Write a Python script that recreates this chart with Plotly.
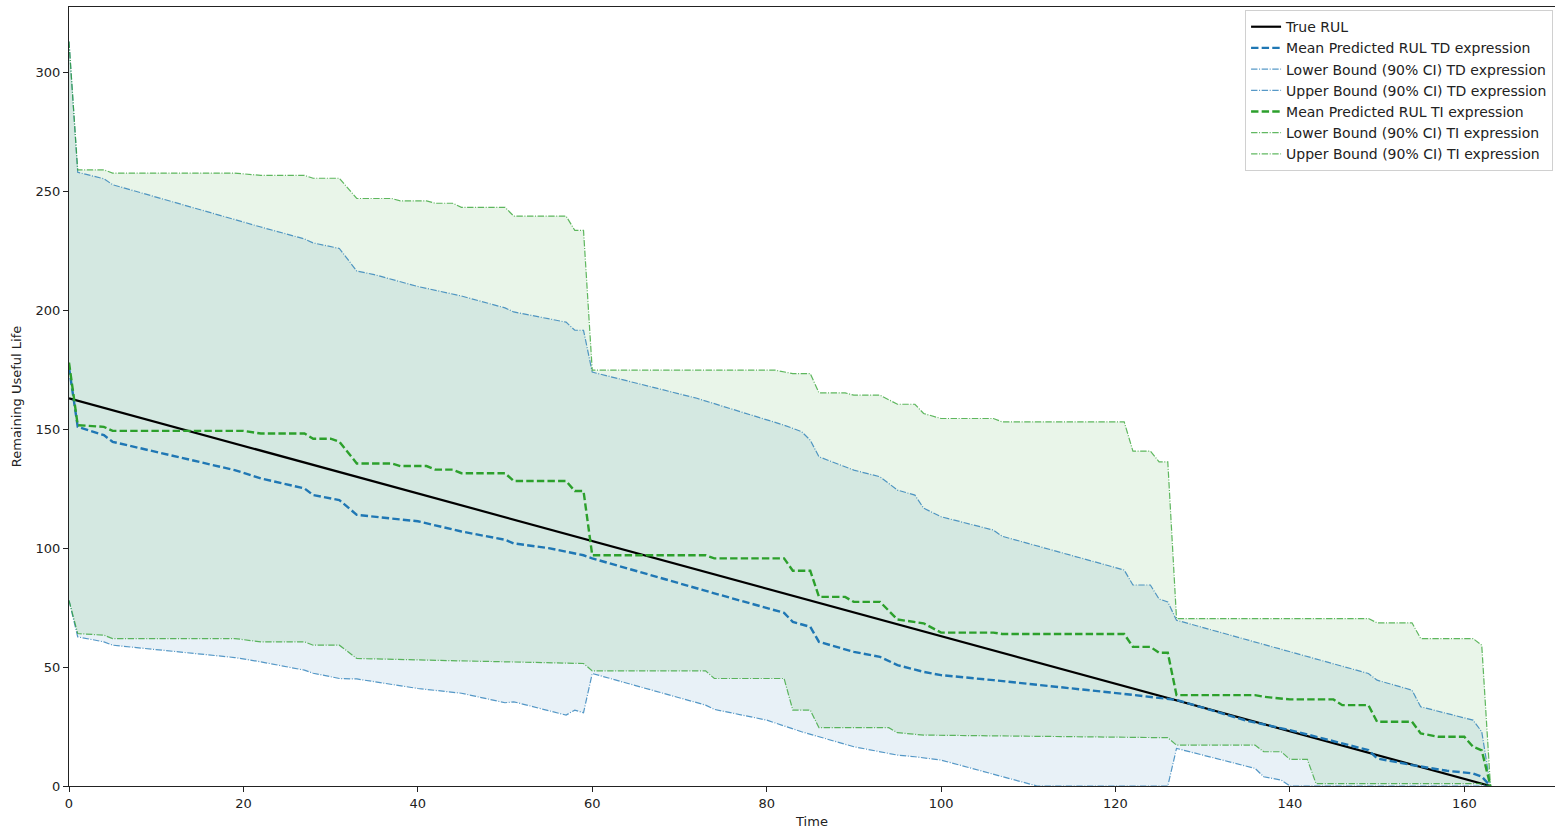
import plotly.graph_objects as go

# Time axis of the run (cycles) and the ground-truth remaining useful life
true_t = [0, 163]
true_rul = [163, 0]

# Time-dependent (TD) expression: mean prediction and 90% CI bounds
td_mean_t = [0, 1, 4, 5, 19, 22, 27, 28, 31, 33, 40, 45, 50, 51, 55, 59, 60, 72, 74, 82, 83, 85, 86,
             90, 93, 95, 98, 100, 106, 121, 126, 127, 135, 140, 149, 150, 154, 158, 161, 162, 163]
td_mean = [176, 151, 147.5, 144.7, 132.8, 129.3, 125.1, 122.3, 120.2, 114, 111.3, 107, 103.5, 102, 100,
           97, 95.7, 83, 81, 72.8, 69, 66.9, 60.6, 56.4, 54.3, 50.8, 48, 46.6, 44.5, 38.7, 36.8, 36.2,
           27.5, 23.5, 15.1, 11.6, 8.8, 6.4, 5.3, 3.9, 0]

td_upper_t = [0, 1, 4, 5, 22, 27, 28, 31, 33, 35, 40, 45, 50, 51, 57, 58, 59, 60, 72, 80, 82, 84, 85, 86,
              90, 93, 95, 97, 98, 100, 106, 107, 121, 122, 124, 125, 126, 127, 149, 150, 154, 155, 161,
              162, 163]
td_upper = [313, 258, 255.3, 252.8, 235, 230, 228.3, 226, 216.5, 215, 210, 206, 201, 199.3, 195, 191.6,
            191.6, 174, 163, 154, 151.7, 149, 145.4, 138.4, 132.8, 130, 124.4, 122.3, 116.8, 113.2, 107.6,
            105, 90.8, 84.5, 84.5, 78.6, 77.4, 69.7, 47.3, 44.5, 40.3, 33.3, 27.7, 22.8, 0]

td_lower_t = [0, 1, 4, 5, 19, 22, 27, 28, 31, 33, 40, 45, 50, 51, 57, 58, 59, 60, 73, 74, 80, 84, 90, 95,
              97, 100, 111, 126, 127, 136, 137, 139, 140, 163]
td_lower = [78, 62.7, 60.6, 59.2, 54, 52.2, 48.7, 47.4, 45.2, 45, 41, 39, 35, 35.4, 29.8, 31.9, 30.8,
            47.3, 34, 32.2, 27.7, 22.8, 16.5, 13, 12.3, 10.9, 0, 0, 15.8, 7.4, 3.9, 2.5, 0, 0]

# Time-independent (TI) expression: mean prediction and 90% CI bounds
ti_mean_t = [0, 1, 4, 5, 20, 22, 27, 28, 30, 31, 33, 37, 38, 41, 42, 44, 45, 50, 51, 57, 58, 59, 60, 73,
             74, 82, 83, 85, 86, 89, 90, 93, 95, 98, 100, 106, 107, 121, 122, 124, 125, 126, 127, 136,
             137, 140, 145, 146, 149, 150, 154, 155, 157, 160, 161, 162, 163]
ti_mean = [178, 151.7, 151, 149.3, 149.3, 148.2, 148.2, 146, 146, 144.7, 135.6, 135.6, 134.5, 134.5, 133,
           133, 131.5, 131.5, 128.2, 128.2, 124, 124, 97, 97, 95.7, 95.7, 90.5, 90.5, 79.5, 79.5, 77.4,
           77.4, 70, 68.4, 64.5, 64.5, 63.9, 63.9, 58.5, 58.5, 56, 56, 38.2, 38.2, 37.5, 36.4, 36.4, 34,
           34, 27, 27, 22.1, 20.7, 20.7, 16.5, 15, 0]

ti_upper_t = [0, 1, 4, 5, 19, 22, 27, 28, 31, 33, 37, 38, 41, 42, 44, 45, 50, 51, 57, 58, 59, 60, 81, 83,
              85, 86, 89, 90, 93, 95, 97, 98, 100, 106, 107, 121, 122, 124, 125, 126, 127, 149, 150, 154,
              155, 161, 162, 163]
ti_upper = [313, 259, 259, 257.7, 257.7, 256.7, 256.7, 255.5, 255.5, 247, 247, 246, 246, 245, 245, 243.3,
            243.3, 239.6, 239.6, 233.6, 233.6, 174.8, 174.8, 173.4, 173.4, 165.3, 165.3, 164.3, 164.3,
            160.5, 160.5, 156.6, 154.5, 154.5, 153.1, 153.1, 140.8, 140.8, 136.3, 136.3, 70.4, 70.4, 68.6,
            68.6, 62, 62, 59.2, 0]

ti_lower_t = [0, 1, 4, 5, 19, 22, 27, 28, 31, 33, 40, 50, 59, 60, 73, 74, 82, 83, 85, 86, 94, 95, 98, 126,
              127, 136, 137, 139, 140, 142, 143, 162, 163]
ti_lower = [78, 64.1, 63.4, 62, 62, 60.6, 60.6, 59.2, 59.2, 53.6, 53, 52.2, 51.5, 48.4, 48.4, 45.2, 45.2,
            31.9, 31.9, 24.5, 24.5, 22.4, 21.4, 20.3, 17.2, 17.2, 14.4, 14.4, 11.2, 11.2, 1, 1, 0]

BLUE = "#1f77b4"
GREEN = "#2ca02c"
BLUE_BOUND = "rgba(31,119,180,0.75)"
GREEN_BOUND = "rgba(44,160,44,0.75)"
FONT = "DejaVu Sans, Liberation Sans, sans-serif"

fig = go.Figure()


def band(lo_t, lo, up_t, up, color):
    # shaded interval between lower and upper bound
    fig.add_trace(go.Scatter(
        x=list(lo_t) + list(reversed(up_t)),
        y=list(lo) + list(reversed(up)),
        fill="toself", fillcolor=color, mode="lines",
        line=dict(width=0), hoverinfo="skip", showlegend=False,
    ))


band(td_lower_t, td_lower, td_upper_t, td_upper, "rgba(31,119,180,0.1)")
band(ti_lower_t, ti_lower, ti_upper_t, ti_upper, "rgba(44,160,44,0.1)")

DASHED = "7.4px,3.2px"
DASHDOT = "6.4px,1.6px,1px,1.6px"

fig.add_trace(go.Scatter(x=true_t, y=true_rul, mode="lines", name="True RUL",
                         line=dict(color="black", width=2.2)))
fig.add_trace(go.Scatter(x=td_mean_t, y=td_mean, mode="lines", name="Mean Predicted RUL TD expression",
                         line=dict(color=BLUE, width=2.4, dash=DASHED)))
fig.add_trace(go.Scatter(x=td_lower_t, y=td_lower, mode="lines", name="Lower Bound (90% CI) TD expression",
                         line=dict(color=BLUE_BOUND, width=1.2, dash=DASHDOT)))
fig.add_trace(go.Scatter(x=td_upper_t, y=td_upper, mode="lines", name="Upper Bound (90% CI) TD expression",
                         line=dict(color=BLUE_BOUND, width=1.2, dash=DASHDOT)))
fig.add_trace(go.Scatter(x=ti_mean_t, y=ti_mean, mode="lines", name="Mean Predicted RUL TI expression",
                         line=dict(color=GREEN, width=2.4, dash=DASHED)))
fig.add_trace(go.Scatter(x=ti_lower_t, y=ti_lower, mode="lines", name="Lower Bound (90% CI) TI expression",
                         line=dict(color=GREEN_BOUND, width=1.2, dash=DASHDOT)))
fig.add_trace(go.Scatter(x=ti_upper_t, y=ti_upper, mode="lines", name="Upper Bound (90% CI) TI expression",
                         line=dict(color=GREEN_BOUND, width=1.2, dash=DASHDOT)))

axis_common = dict(
    showgrid=False, zeroline=False, showline=True, linecolor="#222", linewidth=1.2,
    ticks="outside", ticklen=5, tickwidth=1, tickcolor="#222",
    tickfont=dict(family=FONT, size=13, color="#222"),
)

fig.update_layout(
    width=1555, height=829,
    margin=dict(l=69, r=0, t=7, b=43),
    paper_bgcolor="white", plot_bgcolor="white",
    font=dict(family=FONT, size=13, color="#222"),
    xaxis=dict(range=[0, 170.4], tickvals=[0, 20, 40, 60, 80, 100, 120, 140, 160], mirror=True,
               title=dict(text="Time", font=dict(family=FONT, size=13), standoff=8), **axis_common),
    yaxis=dict(range=[0, 327.5], tickvals=[0, 50, 100, 150, 200, 250, 300],
               title=dict(text="Remaining Useful Life", font=dict(family=FONT, size=13), standoff=10),
               **axis_common),
    legend=dict(x=0.9987, y=0.996, xanchor="right", yanchor="top",
                bgcolor="rgba(255,255,255,0.85)", bordercolor="#d0d0d0", borderwidth=1,
                font=dict(family=FONT, size=14, color="#222"), itemwidth=30, tracegroupgap=0),
    showlegend=True,
)

fig.write_html("out.html")
